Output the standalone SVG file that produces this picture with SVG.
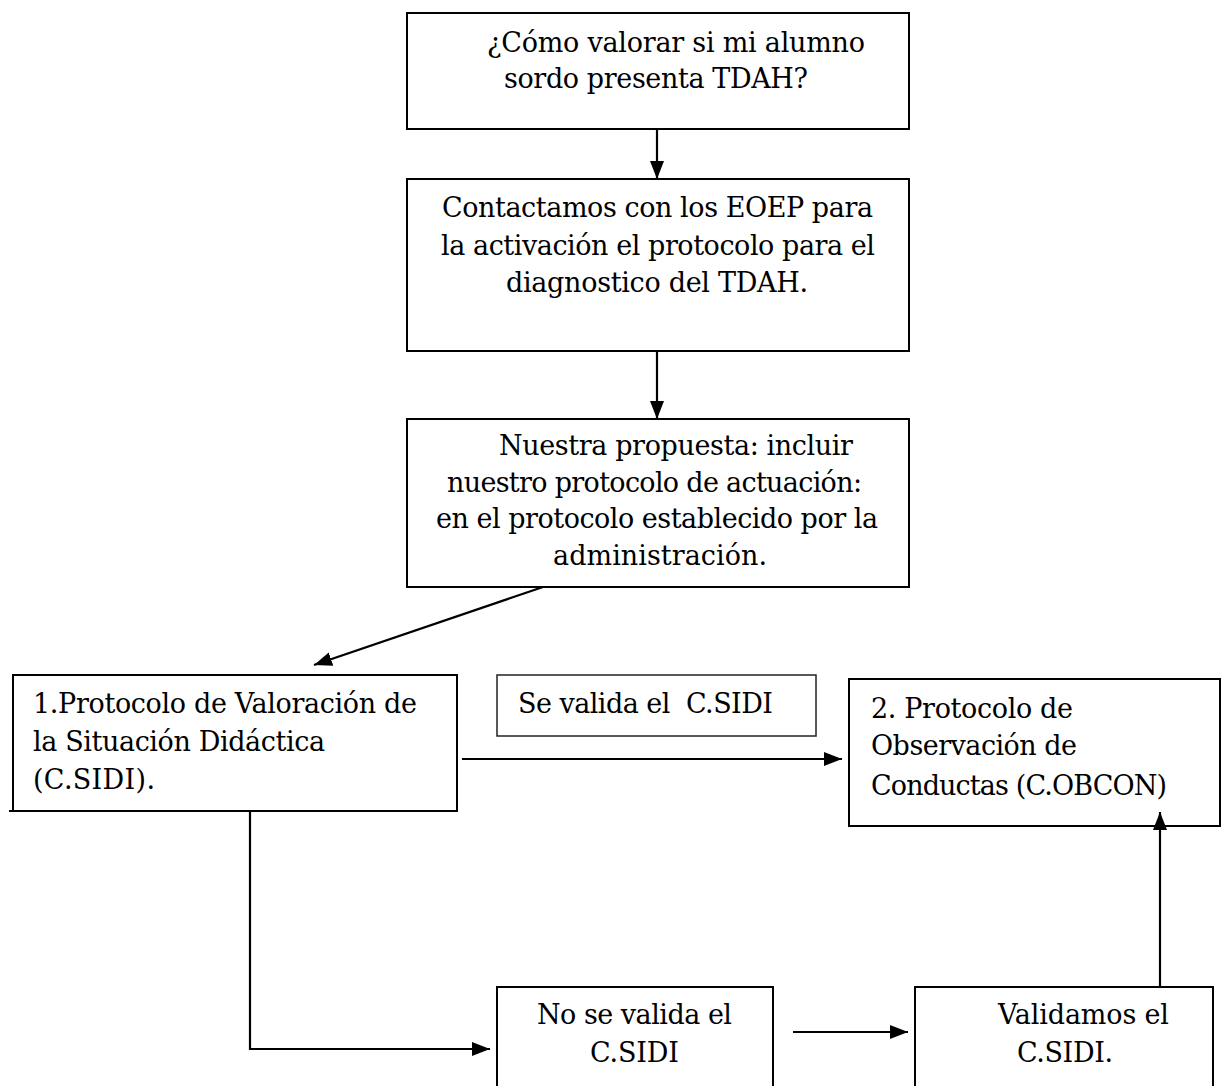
<svg xmlns="http://www.w3.org/2000/svg" width="1222" height="1086" viewBox="0 0 1222 1086">
<style>
.box{fill:#fff;stroke:#000;stroke-width:2}
.thin{fill:#fff;stroke:#222;stroke-width:1.5}
.t{font-family:"DejaVu Serif","Liberation Serif",serif;font-size:27px;fill:#000}
.c{fill:none;stroke:#000;stroke-width:2.2}
</style>
<defs>
<marker id="ah" markerUnits="userSpaceOnUse" markerWidth="20" markerHeight="18" viewBox="0 0 20 18" refX="18" refY="9" orient="auto">
<path d="M0,2 L18,9 L0,16 Z" fill="#000"/>
</marker>
</defs>
<rect width="1222" height="1086" fill="#fff"/>
<g id="n1">
<rect class="box" x="407" y="13" width="502" height="116"/>
<text class="t" x="487" y="52" textLength="378">¿Cómo valorar si mi alumno</text>
<text class="t" x="504" y="88" textLength="304">sordo presenta TDAH?</text>
</g>
<g id="n2">
<rect class="box" x="407" y="179" width="502" height="172"/>
<text class="t" x="442" y="217" textLength="431">Contactamos con los EOEP para</text>
<text class="t" x="441" y="255" textLength="434">la activación el protocolo para el</text>
<text class="t" x="506" y="292" textLength="302">diagnostico del TDAH.</text>
</g>
<g id="n3">
<rect class="box" x="407" y="419" width="502" height="168"/>
<text class="t" x="499" y="455" textLength="354">Nuestra propuesta: incluir</text>
<text class="t" x="447" y="492" textLength="415">nuestro protocolo de actuación:</text>
<text class="t" x="436" y="528" textLength="442">en el protocolo establecido por la</text>
<text class="t" x="553" y="565" textLength="214">administración.</text>
</g>
<g id="n4">
<rect class="box" x="13" y="675" width="444" height="136"/>
<line class="c" x1="9" y1="811" x2="457" y2="811"/>
<text class="t" x="33" y="713" textLength="384">1.Protocolo de Valoración de</text>
<text class="t" x="33" y="751" textLength="292">la Situación Didáctica</text>
<text class="t" x="33" y="789" textLength="122">(C.SIDI).</text>
</g>
<g id="n5">
<rect class="thin" x="497" y="675" width="319" height="61"/>
<text class="t" x="518" y="713" textLength="255" xml:space="preserve">Se valida el  C.SIDI</text>
</g>
<g id="n6">
<rect class="box" x="849" y="679" width="371" height="147"/>
<text class="t" x="871" y="718" textLength="202">2. Protocolo de</text>
<text class="t" x="871" y="755" textLength="206">Observación de</text>
<text class="t" x="871" y="795" textLength="296">Conductas (C.OBCON)</text>
</g>
<g id="n7">
<rect class="box" x="497" y="987" width="276" height="120"/>
<text class="t" x="537" y="1024" textLength="195">No se valida el</text>
<text class="t" x="590" y="1062" textLength="89">C.SIDI</text>
</g>
<g id="n8">
<rect class="box" x="915" y="987" width="298" height="120"/>
<text class="t" x="998" y="1024" textLength="171">Validamos el</text>
<text class="t" x="1017" y="1062" textLength="96">C.SIDI.</text>
</g>
<g id="connectors">
<line class="c" x1="657" y1="129" x2="657" y2="179" marker-end="url(#ah)"/>
<line class="c" x1="657" y1="351" x2="657" y2="419" marker-end="url(#ah)"/>
<line class="c" x1="543" y1="587" x2="314" y2="665" marker-end="url(#ah)"/>
<line class="c" x1="462" y1="759" x2="842" y2="759" marker-end="url(#ah)"/>
<polyline class="c" points="250,812 250,1049 490,1049" marker-end="url(#ah)"/>
<line class="c" x1="793" y1="1032" x2="908" y2="1032" marker-end="url(#ah)"/>
<line class="c" x1="1160" y1="987" x2="1160" y2="812" marker-end="url(#ah)"/>
</g>
</svg>
